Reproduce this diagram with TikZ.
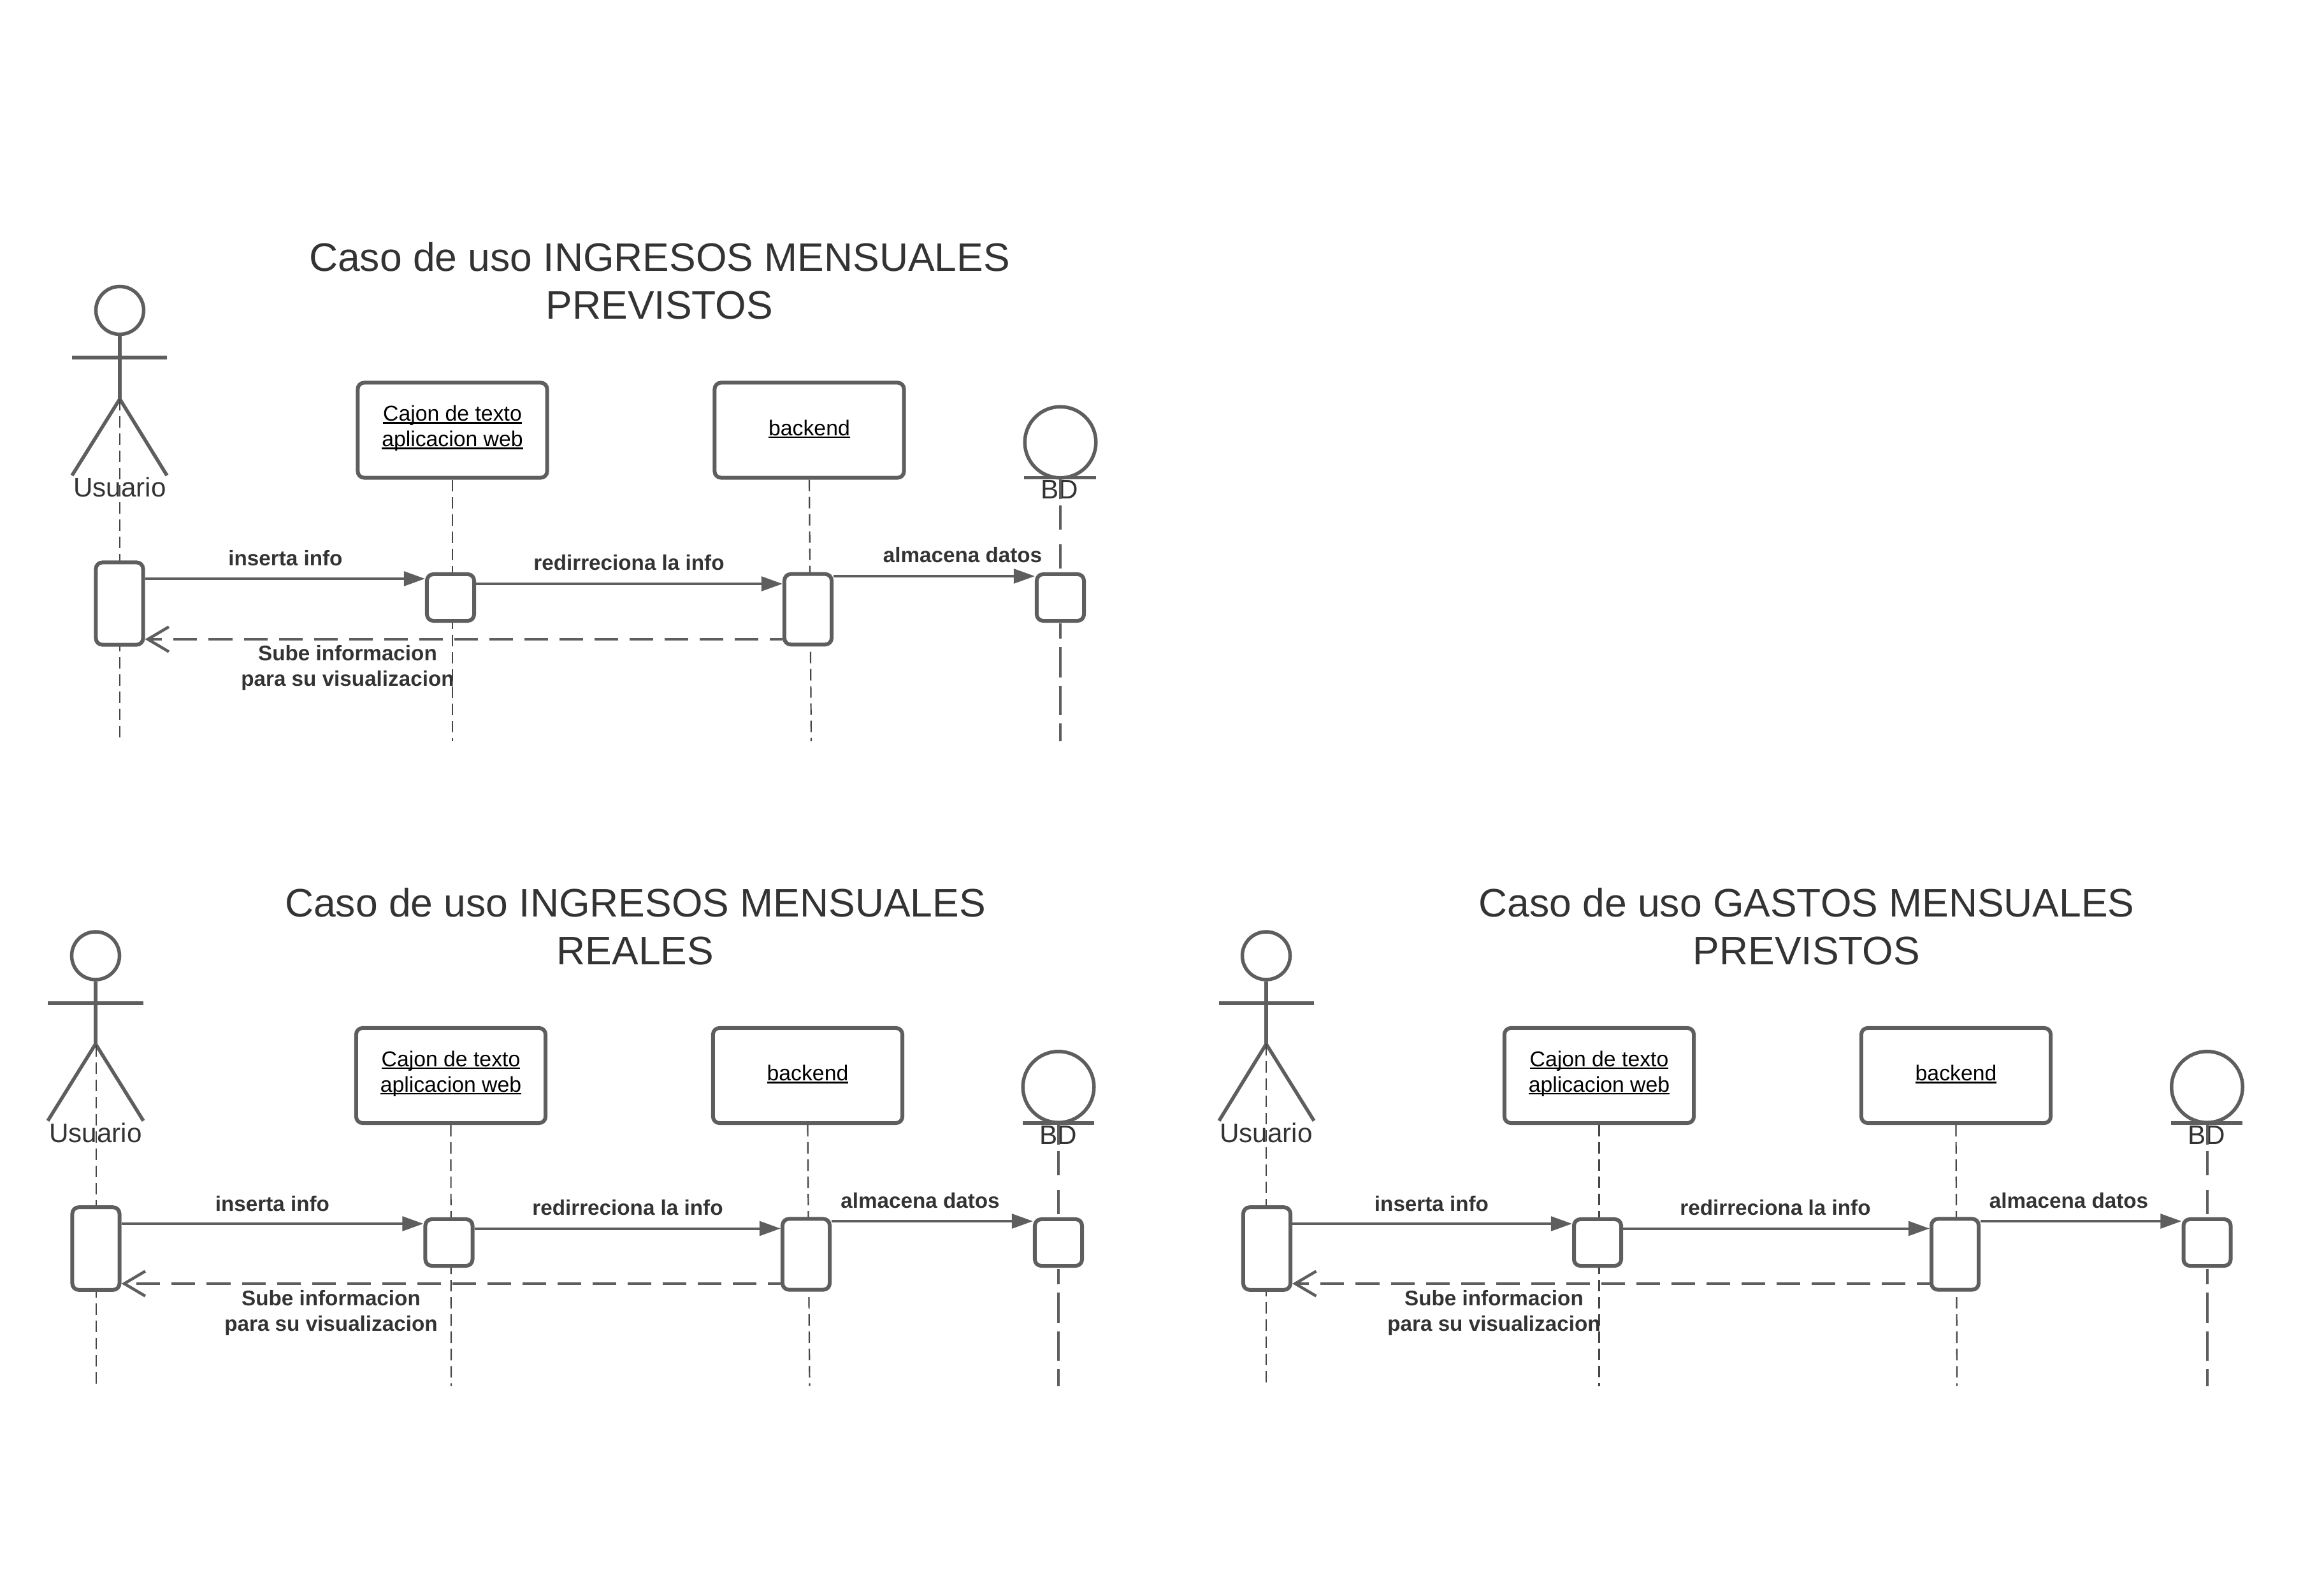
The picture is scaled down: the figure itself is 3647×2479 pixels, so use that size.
\documentclass[tikz,border=0pt]{standalone}
\usepackage{xcolor}
\usepackage{fontspec}
\setmainfont{Liberation Sans}
\usepackage{tikz}
\usetikzlibrary{arrows.meta, positioning, shapes}

\definecolor{trazo}{HTML}{5E5E5E}
\definecolor{letra}{HTML}{333333}

% underline at a fixed depth, as the boxes print it
\newcommand{\subrayar}[1]{\setbox0=\hbox{#1}\rlap{\rule[-1.15pt]{\wd0}{0.65pt}}\box0}

\tikzset{
  lifebox/.style={draw=trazo, line width=0.06cm, fill=white, rounded corners=0.1cm,
    minimum width=2.97cm, minimum height=1.49cm, inner sep=0pt, align=center,
    text=black, font=\fontsize{9.6}{11.38}\selectfont},
  actbox/.style={draw=trazo, line width=0.06cm, fill=white, rounded corners=0.1cm,
    minimum width=0.74cm, minimum height=#1, inner sep=0pt},
  actorhead/.style={circle, draw=trazo, line width=0.055cm, minimum size=0.75cm, inner sep=0pt},
  bdhead/.style={circle, draw=trazo, line width=0.055cm, minimum size=1.115cm, inner sep=0pt},
  figura/.style={draw=trazo, line width=0.055cm, line join=round},
  lifeline/.style={draw=trazo!75!black, line width=0.022cm, dash pattern=on 0.18cm off 0.09cm},
  bdline/.style={draw=trazo, line width=0.04cm, dash pattern=on 0.33cm off 0.10cm on 0.38cm off 0.23cm on 0.38cm off 0.86cm
    on 0.24cm off 0.13cm on 0.48cm off 0.13cm on 0.46cm off 0.13cm on 0.30cm off 0.30cm},
  msg/.style={draw=trazo, line width=0.04cm, -{Triangle[length=0.33cm,width=0.225cm]}},
  msgback/.style={draw=trazo, line width=0.045cm, dash pattern=on 0.37cm off 0.18cm, dash phase=0.17cm,
    -{Straight Barb[length=0.33cm,width=0.39cm]}},
  titulo/.style={align=center, inner sep=0pt, text=letra, font=\fontsize{17.75}{21.3}\selectfont},
  etiqueta/.style={anchor=base, inner sep=0pt, text=letra, font=\fontsize{12}{14}\selectfont},
  mensaje/.style={anchor=base, inner sep=0pt, align=center, text=letra, font=\fontsize{9.45}{11.38}\selectfont\bfseries},
}

\begin{document}
\begin{tikzpicture}[x=0.01cm, y=-0.01cm]
\useasboundingbox (0,0) rectangle (3647,2479);

% Caso 1
\node[titulo] (tituloA) at (1035,441) {Caso de uso INGRESOS MENSUALES\\PREVISTOS};
\node[actorhead] (cabezaA) at (188,487) {};
\coordinate (caderaA) at (188,626);
\draw[figura] (cabezaA.south) -- (caderaA);
\draw[figura] (113,561) -- (262,561);
\draw[figura] (113,746) -- (caderaA) -- (262,746);
\node[etiqueta] (usuarioA) at (188,779) {Usuario};
\node[lifebox, text depth=0.134cm] (cajonA) at (710,675) {\subrayar{Cajon de texto}\\\subrayar{aplicacion web}};
\node[lifebox, text depth=0.08cm] (backendA) at (1270,675) {\subrayar{backend}};
\node[bdhead] (bdA) at (1664,694) {};
\draw[figura] (1607,749.5) -- (1720,749.5);
\node[etiqueta] (nombreA) at (1663,782.5) {BD};
\coordinate (finA1) at (188,1163);
\coordinate (finA2) at (710,1163);
\coordinate (finA3) at (1273,1163);
\coordinate (barraA) at (1664,750);
\coordinate (finA4) at (1664,1163);
\draw[lifeline] (caderaA) -- (finA1);
\draw[lifeline] (cajonA.south) -- (finA2);
\draw[lifeline] (backendA.south) -- (finA3);
\draw[bdline] (barraA) -- (finA4);
\node[actbox=1.29cm] (actA1) at (187.5,947) {};
\node[actbox=0.73cm] (actA2) at (707,937.5) {};
\node[actbox=1.105cm] (actA3) at (1268,956) {};
\node[actbox=0.73cm] (actA4) at (1664,937.5) {};
\draw[msg] (actA1.east |- 0,908) -- (actA2.west |- 0,908);
\draw[msg] (actA2.east |- 0,916) -- (actA3.west |- 0,916);
\draw[msg] (actA3.east |- 0,904) -- (actA4.west |- 0,904);
\draw[msgback] (actA3.west |- 0,1003) -- (actA1.east |- 0,1003);
\node[mensaje] (insertaA) at (448,887) {inserta info};
\node[mensaje] (redirA) at (987,894) {redirreciona la info};
\node[mensaje] (almacenaA) at (1510.5,883) {almacena datos};
\node[mensaje, anchor=center] (subeA) at (545.5,1048) {Sube informacion\\para su visualizacion};

% Caso 2
\node[titulo] (tituloB) at (997,1453.5) {Caso de uso INGRESOS MENSUALES\\REALES};
\node[actorhead] (cabezaB) at (150,1499.5) {};
\coordinate (caderaB) at (150,1638);
\draw[figura] (cabezaB.south) -- (caderaB);
\draw[figura] (75,1574) -- (225,1574);
\draw[figura] (75,1758.5) -- (caderaB) -- (225,1758.5);
\node[etiqueta] (usuarioB) at (150,1792) {Usuario};
\node[lifebox, text depth=0.134cm] (cajonB) at (707.5,1687.5) {\subrayar{Cajon de texto}\\\subrayar{aplicacion web}};
\node[lifebox, text depth=0.08cm] (backendB) at (1267.5,1687.5) {\subrayar{backend}};
\node[bdhead] (bdB) at (1661,1705.5) {};
\draw[figura] (1605,1762) -- (1717,1762);
\node[etiqueta] (nombreB) at (1660.5,1795.5) {BD};
\coordinate (inicioB1) at (151,1640);
\coordinate (finB1) at (151,2174.5);
\coordinate (finB2) at (708,2174.5);
\coordinate (finB3) at (1270.5,2174.5);
\coordinate (barraB) at (1661,1762.5);
\coordinate (finB4) at (1661,2174.5);
\draw[lifeline] (inicioB1) -- (finB1);
\draw[lifeline] (cajonB.south) -- (finB2);
\draw[lifeline] (backendB.south) -- (finB3);
\draw[bdline] (barraB) -- (finB4);
\node[actbox=1.295cm] (actB1) at (150.5,1959) {};
\node[actbox=0.73cm] (actB2) at (704.5,1949.5) {};
\node[actbox=1.11cm] (actB3) at (1265,1968) {};
\node[actbox=0.73cm] (actB4) at (1661,1949.5) {};
\draw[msg] (actB1.east |- 0,1920) -- (actB2.west |- 0,1920);
\draw[msg] (actB2.east |- 0,1927.5) -- (actB3.west |- 0,1927.5);
\draw[msg] (actB3.east |- 0,1916) -- (actB4.west |- 0,1916);
\draw[msgback] (actB3.west |- 0,2014) -- (actB1.east |- 0,2014);
\node[mensaje] (insertaB) at (427.5,1900) {inserta info};
\node[mensaje] (redirB) at (985,1906.5) {redirreciona la info};
\node[mensaje] (almacenaB) at (1444,1895.5) {almacena datos};
\node[mensaje, anchor=center] (subeB) at (519.5,2059.5) {Sube informacion\\para su visualizacion};

% Caso 3
\node[titulo] (tituloC) at (2835,1453.5) {Caso de uso GASTOS MENSUALES\\PREVISTOS};
\node[actorhead] (cabezaC) at (1987,1499.5) {};
\coordinate (caderaC) at (1987,1638);
\draw[figura] (cabezaC.south) -- (caderaC);
\draw[figura] (1913,1574) -- (2062,1574);
\draw[figura] (1913,1758.5) -- (caderaC) -- (2062,1758.5);
\node[etiqueta] (usuarioC) at (1987,1792) {Usuario};
\node[lifebox, text depth=0.134cm] (cajonC) at (2509.5,1687.5) {\subrayar{Cajon de texto}\\\subrayar{aplicacion web}};
\node[lifebox, text depth=0.08cm] (backendC) at (3069.5,1687.5) {\subrayar{backend}};
\node[bdhead] (bdC) at (3463.5,1705.5) {};
\draw[figura] (3407,1762) -- (3519,1762);
\node[etiqueta] (nombreC) at (3463,1795.5) {BD};
\coordinate (finC1) at (1987,2174.5);
\coordinate (finC2) at (2509.5,2174.5);
\coordinate (finC3) at (3071,2174.5);
\coordinate (barraC) at (3463.5,1762.5);
\coordinate (finC4) at (3463.5,2174.5);
\draw[lifeline, line width=0.014cm] (caderaC) -- (finC1);
\draw[lifeline] (cajonC.south) -- (finC2);
\draw[lifeline] (backendC.south) -- (finC3);
\draw[bdline] (barraC) -- (finC4);
\node[actbox=1.295cm] (actC1) at (1988,1959) {};
\node[actbox=0.73cm] (actC2) at (2507,1949.5) {};
\node[actbox=1.11cm] (actC3) at (3068,1968) {};
\node[actbox=0.73cm] (actC4) at (3463.5,1949.5) {};
\draw[msg] (actC1.east |- 0,1920) -- (actC2.west |- 0,1920);
\draw[msg] (actC2.east |- 0,1927.5) -- (actC3.west |- 0,1927.5);
\draw[msg] (actC3.east |- 0,1916) -- (actC4.west |- 0,1916);
\draw[msgback] (actC3.west |- 0,2014) -- (actC1.east |- 0,2014);
\node[mensaje] (insertaC) at (2246.5,1900) {inserta info};
\node[mensaje] (redirC) at (2786,1906.5) {redirreciona la info};
\node[mensaje] (almacenaC) at (3246.5,1895.5) {almacena datos};
\node[mensaje, anchor=center] (subeC) at (2344.5,2059.5) {Sube informacion\\para su visualizacion};
\end{tikzpicture}
\end{document}
